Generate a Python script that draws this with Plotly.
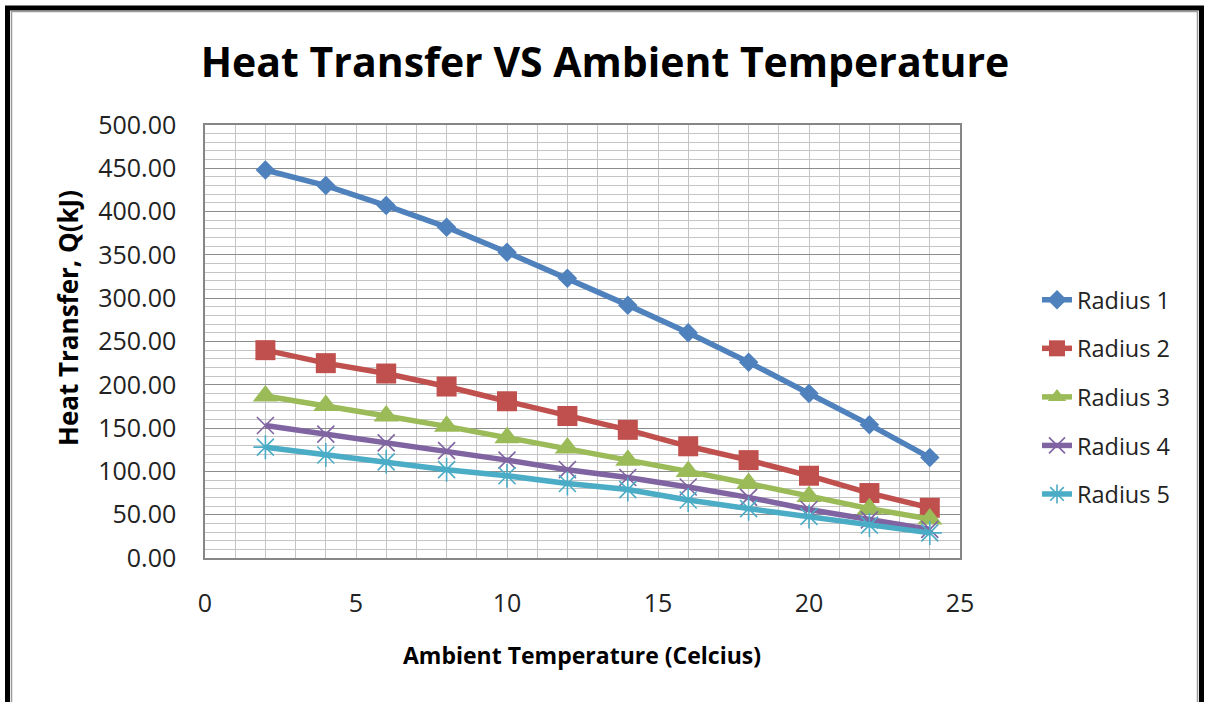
import plotly.graph_objects as go

temps = [2, 4, 6, 8, 10, 12, 14, 16, 18, 20, 22, 24]
radius1 = [448, 430, 407, 382, 353, 323, 292, 260, 226, 190, 154, 116]
radius2 = [240, 225, 213, 198, 181, 164, 148, 129, 113, 95, 75, 58]
radius3 = [187, 176, 164, 152, 139, 127, 113, 100, 86, 71, 57, 45]
radius4 = [153, 143, 133, 124, 113, 102, 93, 82, 70, 56, 44, 33]
radius5 = [128, 119, 111, 102, 95, 86, 79, 67, 57, 48, 38, 29]
names = ["Radius 1", "Radius 2", "Radius 3", "Radius 4", "Radius 5"]
colors = ["#4F81BD", "#C0504D", "#9BBB59", "#8064A2", "#4BACC6"]
marker_line_colors = ["#4F81BD", "#C0504D", "#9BBB59", "#A796C4", "#6CC0D6"]
symbols = ["diamond", "square", "triangle-up", "x-thin-open", "asterisk-open"]
sizes = [15, 20, 22, 17, 20]
series = [radius1, radius2, radius3, radius4, radius5]

FONT = "Open Sans"
W, H = 1205, 702
L, R, T, B = 205, 960, 125, 558

fig = go.Figure()
for i, (nm, ys) in enumerate(zip(names, series)):
    fig.add_trace(go.Scatter(
        x=temps, y=ys, name=nm, mode="lines+markers", legendgroup=nm,
        line=dict(color=colors[i], width=5.5),
        marker=dict(symbol=symbols[i], size=sizes[i], color=colors[i],
                    line=dict(color=marker_line_colors[i], width=1.6 if i >= 3 else 0)),
    ))

fig.update_layout(
    width=W, height=H,
    margin=dict(l=L, r=W - R, t=T, b=H - B),
    paper_bgcolor="white", plot_bgcolor="white",
    font=dict(family=FONT, color="#222222"),
    title=dict(text="<b>Heat Transfer VS Ambient Temperature</b>",
               font=dict(family=FONT, size=41, color="#000000"),
               xref="container", x=605 / W, xanchor="center",
               yref="container", y=1 - 63 / H, yanchor="middle"),
    xaxis=dict(range=[0, 25], dtick=5, tick0=0, showgrid=True,
               gridcolor="#c4c4c4", gridwidth=1,
               minor=dict(dtick=1, showgrid=True, gridcolor="#c4c4c4", gridwidth=1),
               showline=True, linecolor="#868686", linewidth=1.5, mirror=True,
               zeroline=False, ticks="", ticklabelstandoff=22,
               tickfont=dict(size=25, color="#222222", family=FONT)),
    yaxis=dict(range=[0, 500], dtick=50, tick0=0, tickformat=".2f",
               showgrid=True, gridcolor="#8c8c8c", gridwidth=1.2,
               minor=dict(dtick=10, showgrid=True, gridcolor="#c4c4c4", gridwidth=1),
               showline=True, linecolor="#868686", linewidth=1.5, mirror=True,
               zeroline=False, ticks="", ticklabelstandoff=22,
               tickfont=dict(size=25, color="#222222", family=FONT)),
    legend=dict(xref="container", yref="container", x=1037 / W, y=1 - 278 / H,
                xanchor="left", yanchor="top", tracegroupgap=15,
                font=dict(size=23.5, color="#222222", family=FONT),
                bgcolor="rgba(0,0,0,0)"),
    showlegend=True,
)

fig.add_annotation(text="<b>Heat Transfer, Q(kJ)</b>", textangle=-90,
                   xref="paper", yref="paper",
                   x=(68 - L) / (R - L), y=(B - 318) / (B - T),
                   xanchor="center", yanchor="middle", showarrow=False,
                   font=dict(size=26, color="#000000", family=FONT))
fig.add_annotation(text="<b>Ambient Temperature (Celcius)</b>",
                   xref="paper", yref="paper",
                   x=(582 - L) / (R - L), y=(B - 655) / (B - T),
                   xanchor="center", yanchor="middle", showarrow=False,
                   font=dict(size=23, color="#000000", family=FONT))

def px_x(p):
    return (p - L) / (R - L)

def px_y(p):
    return (B - p) / (B - T)

# outer frame (black) and inner thin gray frame
fig.add_shape(type="rect", xref="paper", yref="paper",
              x0=px_x(7.5), x1=px_x(1201.5), y0=px_y(730), y1=px_y(8),
              line=dict(color="#000000", width=5), fillcolor="rgba(0,0,0,0)", layer="above")
fig.add_shape(type="rect", xref="paper", yref="paper",
              x0=px_x(11.5), x1=px_x(1197.5), y0=px_y(730), y1=px_y(11.5),
              line=dict(color="#9a9a9a", width=1.5), fillcolor="rgba(0,0,0,0)", layer="above")

fig.write_html("out.html")
